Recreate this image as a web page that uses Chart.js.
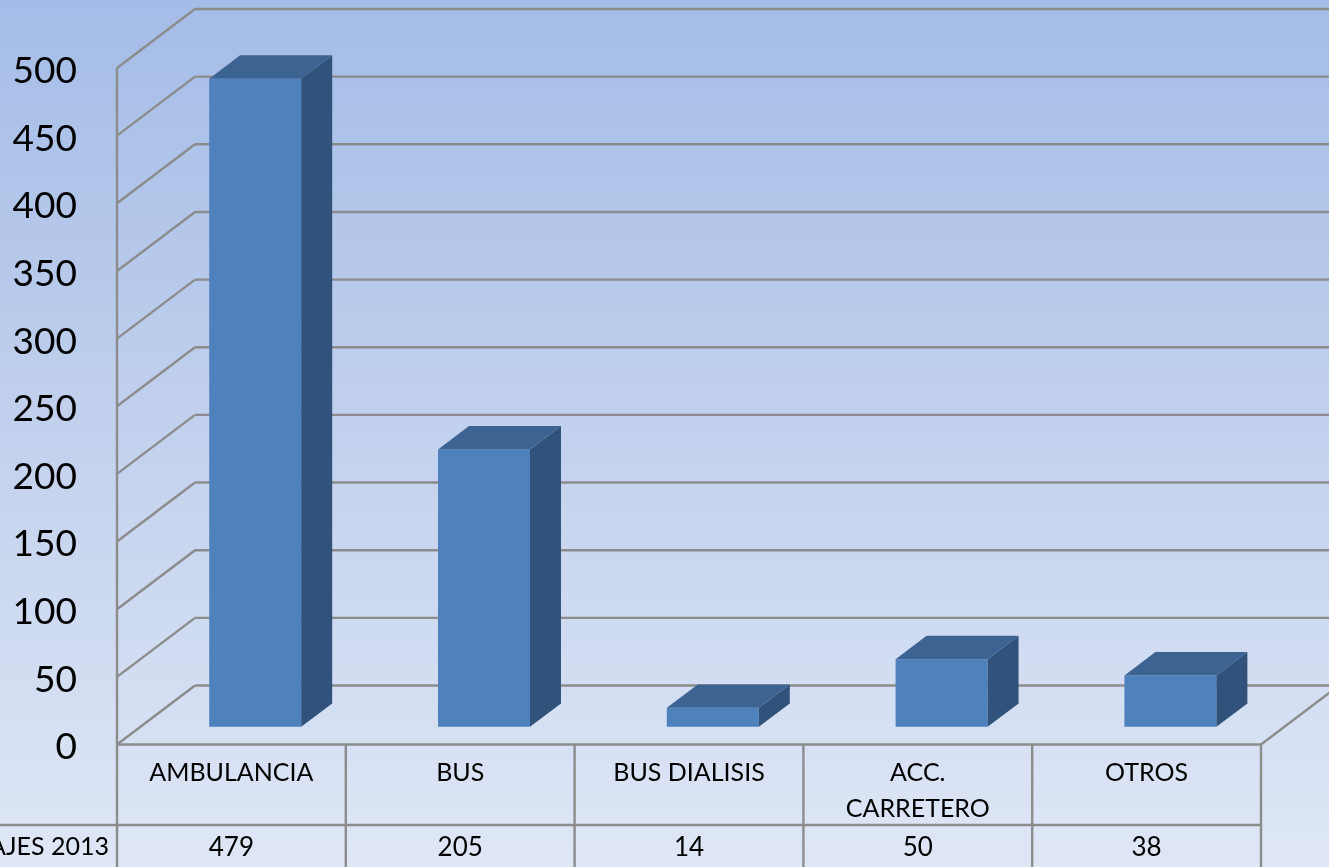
<!DOCTYPE html>
<html>
<head>
<meta charset="utf-8">
<script src="https://cdn.jsdelivr.net/npm/chart.js@4/dist/chart.umd.min.js"></script>
<style>
	html, body { margin: 0; padding: 0; overflow: hidden; }
	body { background: #dde5f5; }
	canvas { display: block; }
</style>
</head>
<body>
<canvas id="myChart" width="1329" height="867"></canvas>
<script>
const categories = ['AMBULANCIA', 'BUS', 'BUS DIALISIS', ['ACC.', 'CARRETERO'], 'OTROS'];
const viajes2013 = [479, 205, 14, 50, 38];
const seriesName = 'VIAJES 2013';
const yTicks = [0, 50, 100, 150, 200, 250, 300, 350, 400, 450, 500];

const gridColor = '#8c8c8c';
const wallDx = 78, wallDy = -59;   // floor depth of the 3d box
const barShiftX = 23.8, barShiftY = -17.7;   // bars sit a bit inside the box
const barDx = 31, barDy = -23.4;   // depth of each bar

function line(ctx, x1, y1, x2, y2) {
	ctx.beginPath();
	ctx.moveTo(x1, y1);
	ctx.lineTo(x2, y2);
	ctx.stroke();
}

function poly(ctx, pts, color) {
	ctx.fillStyle = color;
	ctx.beginPath();
	pts.forEach((p, i) => (i ? ctx.lineTo(p[0], p[1]) : ctx.moveTo(p[0], p[1])));
	ctx.closePath();
	ctx.fill();
}

const background = {
	id: 'background',
	beforeDraw(chart) {
		const { ctx, width, height } = chart;
		const g = ctx.createLinearGradient(0, 0, 0, height);
		g.addColorStop(0, '#a4bce7');
		g.addColorStop(0.5, '#c2d1ed');
		g.addColorStop(1, '#dfe7f6');
		ctx.fillStyle = g;
		ctx.fillRect(0, 0, width, height);
	},
};

const box3d = {
	id: 'box3d',
	// walls and floor, behind the bars
	beforeDatasetsDraw(chart) {
		const { ctx, chartArea: a, scales: { y } } = chart;
		ctx.save();
		ctx.strokeStyle = gridColor;
		ctx.lineWidth = 2.4;
		yTicks.forEach((v) => {
			const py = y.getPixelForValue(v);
			line(ctx, a.left, py, a.left + wallDx, py + wallDy);
			line(ctx, a.left + wallDx, py + wallDy, chart.width, py + wallDy);
		});
		line(ctx, a.left, y.getPixelForValue(500), a.left, a.bottom);
		line(ctx, a.right, a.bottom, a.right + wallDx, a.bottom + wallDy);
		ctx.restore();
	},
	// library draws the front faces, moved into the box
	beforeDatasetDraw(chart) {
		chart.ctx.save();
		chart.ctx.translate(barShiftX, barShiftY);
	},
	afterDatasetDraw(chart, args) {
		const { ctx } = chart;
		args.meta.data.forEach((bar) => {
			const p = bar.getProps(['x', 'y', 'base', 'width'], true);
			const l = p.x - p.width / 2, r = p.x + p.width / 2;
			poly(ctx, [[r, p.y], [r + barDx, p.y + barDy], [r + barDx, p.base + barDy], [r, p.base]], '#31537b');
			poly(ctx, [[l, p.y], [l + barDx, p.y + barDy], [r + barDx, p.y + barDy], [r, p.y]], '#3c6392');
		});
		ctx.restore();
	},
	// data table under the plot
	afterDraw(chart) {
		const { ctx, chartArea: a, scales: { x } } = chart;
		const rowY = 825;
		ctx.save();
		ctx.strokeStyle = gridColor;
		ctx.lineWidth = 2.4;
		line(ctx, a.left, a.bottom, a.right, a.bottom);
		line(ctx, 0, rowY, a.right, rowY);
		const step = x.getPixelForValue(1) - x.getPixelForValue(0);
		for (let i = 0; i <= categories.length; i++) {
			const px = x.getPixelForValue(0) - step / 2 + step * i;
			line(ctx, px, a.bottom, px, chart.height);
		}
		ctx.fillStyle = '#000';
		ctx.font = '26px Lato';
		ctx.textBaseline = 'middle';
		ctx.textAlign = 'center';
		viajes2013.forEach((v, i) => ctx.fillText(v, x.getPixelForValue(i), 848));
		ctx.font = '25px Lato';
		ctx.textAlign = 'right';
		ctx.fillText(seriesName, 109, 847);
		ctx.restore();
	},
};

new Chart(document.getElementById('myChart').getContext('2d'), {
	type: 'bar',
	data: {
		labels: categories,
		datasets: [
			{
				label: seriesName,
				data: viajes2013,
				backgroundColor: '#4f81bd',
				barPercentage: 0.402,
				categoryPercentage: 1,
				clip: false,
			},
		],
	},
	options: {
		responsive: false,
		animation: false,
		layout: { padding: { top: 68, right: 68, left: 0, bottom: 0 } },
		plugins: { legend: { display: false }, tooltip: { enabled: false } },
		scales: {
			x: {
				afterFit(scale) { scale.height = 122.5; },
				grid: { display: false },
				border: { display: false },
				ticks: {
					autoSkip: false,
					maxRotation: 0,
					padding: 2,
					color: '#000',
					font: { family: 'Lato', size: 25, lineHeight: 1.44 },
				},
			},
			y: {
				min: 0,
				max: 500,
				afterFit(scale) { scale.width = 117; },
				afterBuildTicks(scale) { scale.ticks = yTicks.map((value) => ({ value })); },
				grid: { display: false },
				border: { display: false },
				ticks: {
					padding: 32,
					labelOffset: 3,
					color: '#000',
					font: { family: 'Lato', size: 37 },
				},
			},
		},
	},
	plugins: [background, box3d],
});
</script>
</body>
</html>
